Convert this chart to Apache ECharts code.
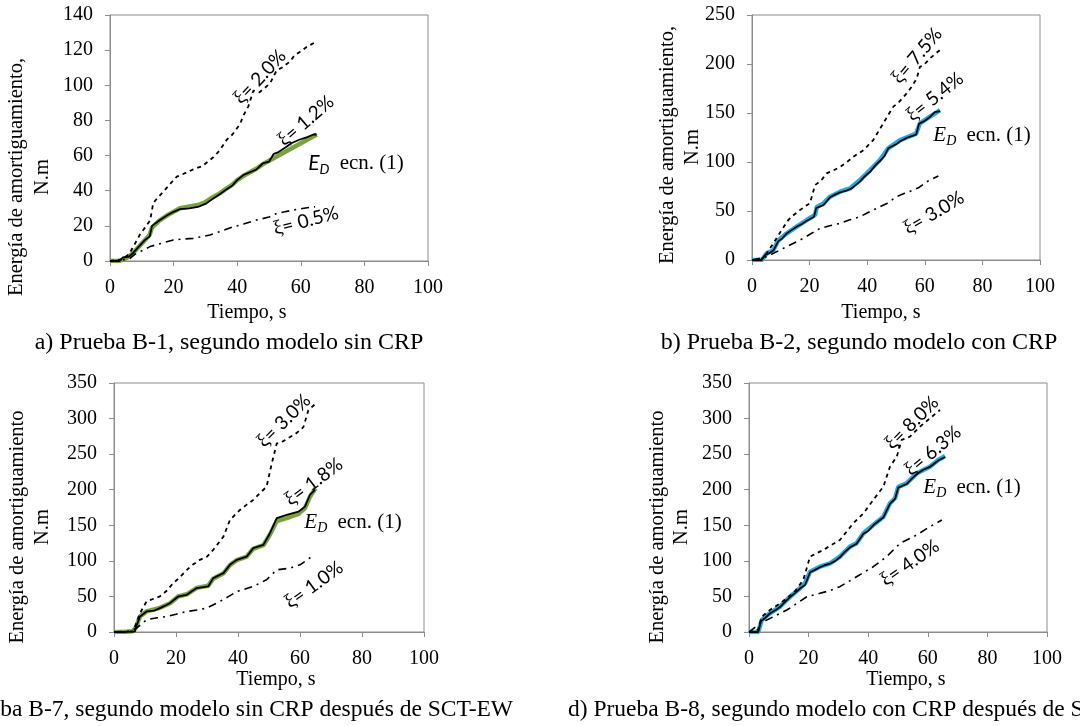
<!DOCTYPE html>
<html><head><meta charset="utf-8">
<script src="https://cdn.jsdelivr.net/npm/echarts@6/dist/echarts.min.js"></script>
<style>html,body{margin:0;padding:0;background:#fff}#c{width:1080px;height:726px}</style>
</head><body><div id="c"></div>
<script>
// ---------- DATA ----------
var xTicks = [0, 20, 40, 60, 80, 100];
// Plot a) B-1
var aED   = [[0,0],[3,0],[5,1.5],[7,4],[9,8],[11,12],[12.5,15],[13.2,19],[15.5,23],[18,26],[20,28],[22,30],[25,31],[28,32],[30,33.5],[32,36],[34.5,38.5],[36,40.5],[38.5,43.5],[40,46],[42,48.5],[44,50.5],[46,52.5],[48,55],[50,57],[52,59],[55,62],[58,65],[61,68],[63,70],[65,72]];
var aXiM  = [[0,0],[3,0],[4,2],[6,2.5],[7.5,5],[9,8],[11,12],[12.5,14],[13.2,20],[15.5,23],[18,26],[20,28],[22,29.5],[25,30],[28,31],[30,32.5],[32,35],[34.5,38],[36,40],[38.5,43],[40,46],[42,49],[44,50.5],[46,52],[48,55.5],[50,56.5],[51.5,61],[53,62],[55.5,65],[57,67],[59.5,69],[62,70.5],[64,72],[65,72]];
var aXiHi = [[0,0],[4,1],[6,4],[7.3,8],[9.4,15],[11,19],[12.6,23],[13.6,33],[15,36],[16.8,39.5],[19,44],[21,48],[23,49.5],[26,52],[29,54],[32.5,59],[34.5,63],[36.7,69],[38.5,72],[40.9,78],[42,83],[43.5,88],[45.1,97],[47,96],[50.3,101],[52.4,108.5],[54,110],[56.6,113.5],[58,117],[59.7,119],[62,122],[64.5,124.5]];
var aXiLo = [[0,0],[4,0.5],[6.3,1.5],[8,4],[9.4,5.3],[12.6,8.2],[16,10],[19.9,12],[23,12.5],[26.2,12.9],[31.4,14.8],[35,17],[38.8,19.5],[42,21],[46.1,23.3],[50,25],[52.4,27.1],[55,28],[57.6,29],[61,30],[64.5,30.9]];
// Plot b) B-2
var bED   = [[0,0],[3.4,0],[5.1,6.8],[7.4,10],[9.1,20],[12,27],[15.5,34],[19,40.8],[21.9,46],[22.5,54],[24.8,57.8],[27.1,64.6],[30.6,69.7],[34,73],[37.5,81.6],[41,91.8],[44.4,102],[47.3,114],[51.4,122.4],[57,129],[58.3,139.5],[61.8,146.3],[65.3,153]];
var bXiM  = [[0,0],[3.4,0],[4.5,5],[6,7],[7.5,10],[9.1,19],[10.5,22],[12,27],[14,31],[15.5,34],[17.5,37],[19,40],[21.5,44],[22.3,53],[24.8,56],[27.1,64],[29,67],[30.6,69],[33,71],[34.5,73],[37.5,80],[39,85],[41,90],[43,97],[44.4,101],[46,106],[47.3,114],[50,118],[51.4,121],[54,125],[57,128],[58,139],[60,142],[61.8,146],[63.5,151],[65.3,152]];
var bXiHi = [[0,0],[3,0],[5.1,6.8],[7.4,17],[10.3,30.6],[12.6,40.8],[14.5,46],[16.7,51],[18.5,55],[20.1,57.8],[21.9,76.5],[24,81],[25.9,88.4],[28,91],[30.6,95],[33,100],[35.2,105.4],[38.7,112],[42.1,122.4],[45.6,139.5],[47.5,149],[49.1,156.5],[51,161],[53.7,170],[55.5,177],[57.2,185.4],[58.3,197],[60,200],[61.8,205.8],[65.3,214.3]];
var bXiLo = [[0,0],[5.1,3.4],[9.7,10.2],[13,15],[16.7,20.4],[20,26],[23.6,32.3],[27,35],[30.6,37.4],[34,41],[37.5,44.2],[40,48],[43.3,52.7],[47,58],[50.2,64.6],[53,68],[56,71.4],[58,74],[60.7,79.9],[64.7,85.7]];
// Plot c) B-7
var cED   = [[0,0],[3,0],[6,1],[7,6],[8.4,22],[10.5,29],[14.8,34],[18.1,40.5],[20.7,50],[23.5,53],[26.7,62],[30.4,65],[32,75],[35.3,82.5],[37.4,94],[39.6,101],[42.8,106],[44.9,117],[48.2,122],[50.3,137],[52.5,156],[55.7,160],[59.5,166],[61.6,174],[63.2,190],[65,202]];
var cXiM  = [[0,0],[3,0],[6.8,1],[7,5.6],[8.4,21.9],[10.5,28.9],[13,30],[14.8,33.6],[16.5,37],[18.1,40.7],[20.7,49.9],[23.5,52.3],[25,57],[26.7,61.7],[30.4,64],[32,75.7],[35.3,82.7],[37.4,94.4],[39.6,101.4],[42.8,106],[44.9,117.8],[48.2,122.4],[50.3,138.8],[52.5,160],[55.7,164.5],[59.5,169.1],[61.6,176.2],[63.2,192.6],[64.8,199.6]];
var cXiHi = [[0,0],[6.2,0.5],[8.4,26.6],[10.5,43],[14.8,50],[17,58],[19.1,68.7],[21,76],[23.5,87.4],[25.5,95],[27.7,101.4],[30,106],[32,115.4],[35.3,134],[37.4,157.5],[40.6,171.5],[42.5,178],[44.9,185.6],[47,195],[49.2,204],[50.9,237],[52.5,265],[54.5,268],[56.8,274],[59,280],[61.1,288],[62.7,311.8],[64.8,320]];
var cXiLo = [[0,0],[5,1],[7.3,5.6],[10.5,17.3],[14,20],[17,21.9],[20,25],[23.5,28.9],[27,31],[29.9,33.6],[34.2,43],[37,50],[39.6,57],[42,60],[44.9,64],[49.2,73.4],[52.5,87.4],[56.8,89.8],[60,94.4],[63.8,106]];
// Plot d) B-8
var dED   = [[0,0],[3.1,0],[4.3,17],[7,26.3],[10.4,35.6],[13.8,49.6],[17.1,61.4],[18.8,68.5],[20.5,84.8],[23.8,91.8],[27.2,96.6],[30.5,106],[33.9,120],[36.1,124.7],[38.4,138.7],[41.7,150.4],[45.1,162],[47.3,181],[49,188],[50.1,204],[52.9,209],[56.3,223],[60.7,232.4],[63.5,241.8],[65.8,247.4]];
var dXiM  = [[0,0],[3.1,0],[4,15],[5.5,20],[7,26],[9,31],[10.4,35],[12,42],[13.8,49],[15.5,55],[17.1,61],[18.8,66],[20.5,84],[22,87],[23.8,91],[25.5,94],[27.2,96],[29,100],[30.5,105],[32,112],[33.9,119],[36.1,124],[38.4,138],[40,142],[41.7,150],[43.5,156],[45.1,161],[47.3,180],[49,187],[50.1,203],[52.9,208],[54.5,215],[56.3,222],[58.5,228],[60.7,232],[63.5,241],[65.8,246]];
var dXiHi = [[0,0],[3.1,3.3],[4.3,21.6],[7,30.9],[10.4,40.3],[14.9,54.4],[18.2,73],[20.5,106],[24.9,115.3],[30.5,129.3],[35,152.8],[38.4,166.8],[41.7,185.6],[45.1,204.3],[47.3,232.4],[49.6,246.5],[51.2,270],[54,274.5],[57.4,288.6],[60.7,300.4],[64.1,312]];
var dXiLo = [[0,0],[3.7,12.2],[8.2,21.5],[12.7,30.9],[16,40],[19.4,49.6],[23.8,54.4],[27,58],[30.5,63.7],[36.1,77.7],[41.7,91.8],[46.2,106],[50.7,124.7],[56.3,136.4],[60.7,148.1],[64.7,157.4]];

var yMax = [140, 250, 350, 350];
var yStep = [20, 50, 50, 50];
var xiLabels = [["2.0%","1.2%","0.5%"],["7.5%","5.4%","3.0%"],["3.0%","1.8%","1.0%"],["8.0%","6.3%","4.0%"]];
var captions = ["a) Prueba B-1, segundo modelo sin CRP","b) Prueba B-2, segundo modelo con CRP","c) Prueba B-7, segundo modelo sin CRP después de SCT-EW","d) Prueba B-8, segundo modelo con CRP después de SCT-EW"];
var yNames = [["Energía de amortiguamiento,","N.m"],["Energía de amortiguamiento,","N.m"],["Energía de amortiguamiento","N.m"],["Energía de amortiguamiento","N.m"]];

// ---------- LAYOUT ----------
var SERIF = '"Liberation Serif","Times New Roman",serif';
var SANS = 'Lato,"Open Sans",sans-serif';
var grids = [
  {left:110, top:15, width:318, height:246},
  {left:752, top:15, width:288, height:245},
  {left:114, top:383, width:310, height:249},
  {left:749, top:383, width:298, height:249}
];
var green = '#79A23C', blue = '#1EABE3', axisGrey = '#8c8c8c';
var edColors = [green, blue, green, blue];
var sets = [[aED,aXiM,aXiHi,aXiLo],[bED,bXiM,bXiHi,bXiLo],[cED,cXiM,cXiHi,cXiLo],[dED,dXiM,dXiHi,dXiLo]];

var option = {animation:false, grid:[], xAxis:[], yAxis:[], series:[], graphic:[]};
grids.forEach(function(g,i){
  option.grid.push({left:g.left, top:g.top, width:g.width, height:g.height, show:true, borderColor:axisGrey, borderWidth:1, backgroundColor:'transparent'});
  option.xAxis.push({type:'value', gridIndex:i, min:0, max:100, interval:20,
    axisLine:{show:true, onZero:false, lineStyle:{color:axisGrey, width:1}},
    axisTick:{show:true, inside:false, length:5, lineStyle:{color:axisGrey}},
    splitLine:{show:false},
    axisLabel:{color:'#000', fontFamily:SERIF, fontSize:20, margin:17}});
  option.yAxis.push({type:'value', gridIndex:i, min:0, max:yMax[i], interval:yStep[i],
    axisLine:{show:true, onZero:false, lineStyle:{color:axisGrey, width:1}},
    axisTick:{show:true, inside:false, length:5, lineStyle:{color:axisGrey}},
    splitLine:{show:false},
    axisLabel:{color:'#000', fontFamily:SERIF, fontSize:20, margin:17}});
  var s = sets[i];
  option.series.push({type:'line', xAxisIndex:i, yAxisIndex:i, data:s[0], symbol:'none', silent:true, z:2,
    lineStyle:{color:edColors[i], width:4.5}});
  option.series.push({type:'line', xAxisIndex:i, yAxisIndex:i, data:s[1], symbol:'none', silent:true, z:3,
    lineStyle:{color:'#000', width:1.8}});
  option.series.push({type:'line', xAxisIndex:i, yAxisIndex:i, data:s[2], symbol:'none', silent:true, z:3,
    lineStyle:{color:'#000', width:1.8, type:[4,4]}});
  option.series.push({type:'line', xAxisIndex:i, yAxisIndex:i, data:s[3], symbol:'none', silent:true, z:3,
    lineStyle:{color:'#000', width:1.6, type:[8,5,2,5]}});
});

// labels inside plots: [x, y, rotationDeg]
var xiPos = [
  [[260,77,47],[306,121,41],[306,221,15]],
  [[917,56,50],[935,97,39],[934,213,31]],
  [[284,421,45],[314,482,37],[314,585,36]],
  [[912,423,45],[933,451,40],[910,563,35]]
];
var edPos = [[356,163],[982,135],[353,522],[972,487]];
var xNamePos = [[247,313],[881,313],[276,680],[906,680]];
var yNamePos = [[[17,177],[43,177]],[[668,145],[693,147]],[[18,527],[43,527]],[[658,527],[682,527]]];

function xiText(x,y,deg,pct){
  return {type:'text', x:x, y:y, rotation:deg*Math.PI/180, silent:true, z:10,
    style:{text:'{g|ξ}{s|= '+pct+'}', align:'center', verticalAlign:'middle',
      rich:{g:{fontFamily:SERIF, fontSize:20, fill:'#000'}, s:{fontFamily:SANS, fontSize:19, fill:'#000'}}}};
}
for (var i=0;i<4;i++){
  for (var k=0;k<3;k++){ var p = xiPos[i][k]; option.graphic.push(xiText(p[0],p[1],p[2],xiLabels[i][k])); }
  var eFont = (i===0) ? SANS : SERIF;
  option.graphic.push({type:'text', x:edPos[i][0], y:edPos[i][1], silent:true, z:10,
    style:{text:'{e|E}{d|D}{n| ecn. (1)}', align:'center', verticalAlign:'middle',
      rich:{e:{fontFamily:eFont, fontStyle:'italic', fontSize:21, fill:'#000', lineHeight:26, verticalAlign:'middle'},
            d:{fontFamily:eFont, fontStyle:'italic', fontSize:14, fill:'#000', lineHeight:26, verticalAlign:'bottom', padding:[0,5,0,0]},
            n:{fontFamily:SERIF, fontSize:21, fill:'#000', lineHeight:26, verticalAlign:'middle'}}}});
  option.graphic.push({type:'text', x:xNamePos[i][0], y:xNamePos[i][1], silent:true,
    style:{text:'Tiempo, s', align:'center', verticalAlign:'middle', fontFamily:SERIF, fontSize:20, fill:'#000'}});
  for (var L=0; L<2; L++){
    option.graphic.push({type:'text', x:yNamePos[i][L][0], y:yNamePos[i][L][1], rotation:Math.PI/2, silent:true,
      style:{text:yNames[i][L], align:'center', verticalAlign:'middle', fontFamily:SERIF, fontSize:20.5, fill:'#000'}});
  }
}
// captions
function cap(txt, x, y, align, fs){
  return {type:'text', x:x, y:y, silent:true, style:{text:txt, align:align, verticalAlign:'middle', fontFamily:SERIF, fontSize:fs, fill:'#000'}};
}
option.graphic.push(cap(captions[0], 229, 343, 'center', 24));
option.graphic.push(cap(captions[1], 859, 343, 'center', 24));
option.graphic.push(cap(captions[2], -67, 710, 'left', 23.5));
option.graphic.push(cap(captions[3], 568, 710, 'left', 23.5));

var chart = echarts.init(document.getElementById('c'), null, {renderer:'canvas'});
chart.setOption(option);
</script></body></html>
